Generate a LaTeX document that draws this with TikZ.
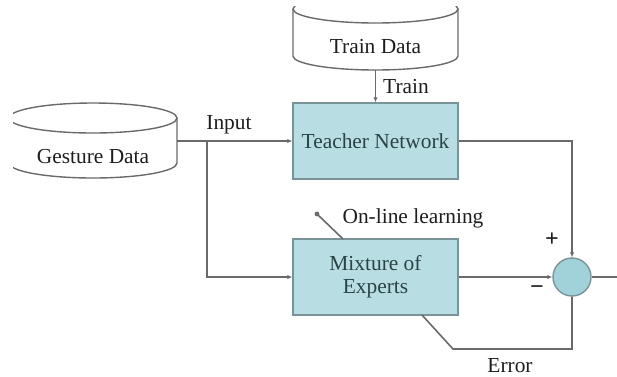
\documentclass[tikz,border=0pt]{standalone}
\usepackage{fontspec}
\setmainfont{Liberation Serif}
\usetikzlibrary{arrows.meta}
\definecolor{boxfill}{HTML}{B8DEE3}
\definecolor{boxdraw}{HTML}{7A9398}
\definecolor{circfill}{HTML}{A2D2D9}
\definecolor{linegray}{HTML}{6A6A6A}
\definecolor{txt}{HTML}{1E1E1E}
\definecolor{boxtxt}{HTML}{2A4346}
\begin{document}
\begin{tikzpicture}[x=1pt,y=-1pt,
  every node/.style={font=\fontsize{21.4}{23}\selectfont, text=txt, inner sep=0pt},
  blockbox/.style={draw=boxdraw, line width=1.4pt, fill=boxfill, minimum width=165pt, minimum height=76pt, text=boxtxt, align=center},
  conn/.style={draw=linegray, line width=1.6pt},
  arr/.style={conn, -{Latex[length=5pt,width=4.5pt]}},
  cyl/.style={draw=linegray, line width=1.4pt, fill=white},
  signlbl/.style={font=\fontsize{24}{26}\bfseries, text=txt}
]
\useasboundingbox[fill=white] (0,0) rectangle (617,376);

% Train Data cylinder (clipped at top)
\begin{scope}
  \clip (0,6) rectangle (617,376);
  \draw[cyl] (293,9) -- (293,56) arc[start angle=180, end angle=0, x radius=82.5, y radius=14] -- (458,9);
  \draw[cyl] (375.5,9) ellipse [x radius=82.5, y radius=14];
\end{scope}

% Gesture Data cylinder (clipped at left)
\begin{scope}
  \clip (13,0) rectangle (617,376);
  \draw[cyl] (9,118) -- (9,163) arc[start angle=180, end angle=0, x radius=84, y radius=15] -- (177,118);
  \draw[cyl] (93,118) ellipse [x radius=84, y radius=15];
\end{scope}

\node (gd) at (93,157) {Gesture Data};
\coordinate (gdr) at (177,141);
\node (td) at (375.5,47) {Train Data};
\coordinate (tdb) at (375.5,70);

\node[blockbox] (tn) at (375.5,141) {Teacher Network};
\node[blockbox] (moe) at (375.5,277) {Mixture of\\Experts};
\node[circle, draw=boxdraw, fill=circfill, line width=1.4pt, minimum size=38pt] (sum) at (572,277) {};

\coordinate (jn) at (207,141);
\coordinate (olb) at (343,239);
\coordinate (ol) at (317,214);
\coordinate (e1) at (422,315);
\coordinate (e2) at (453,349);
\coordinate (out) at (617,277);

\draw[arr] (tdb) -- (tn.north);
\draw[arr] (gdr) -- (tn.west);
\draw[arr] (jn) |- (moe.west);
\draw[arr] (tn.east) -| (sum.north);
\draw[arr] (moe.east) -- (sum.west);
\draw[conn] (sum.east) -- (out);
\draw[conn] (sum.south) |- (e2) -- (e1);
\draw[conn] (olb) -- (ol);
\fill[linegray] (ol) circle (2.4);

\node (lin) at (229,125) {Input};
\node (ltr) at (406,87) {Train};
\node (lol) at (413,218) {On-line learning};
\node (ler) at (510,366) {Error};
\node[signlbl] (lplus) at (552,240) {+};
\node[signlbl] (lminus) at (537,290) {−};
\end{tikzpicture}
\end{document}
